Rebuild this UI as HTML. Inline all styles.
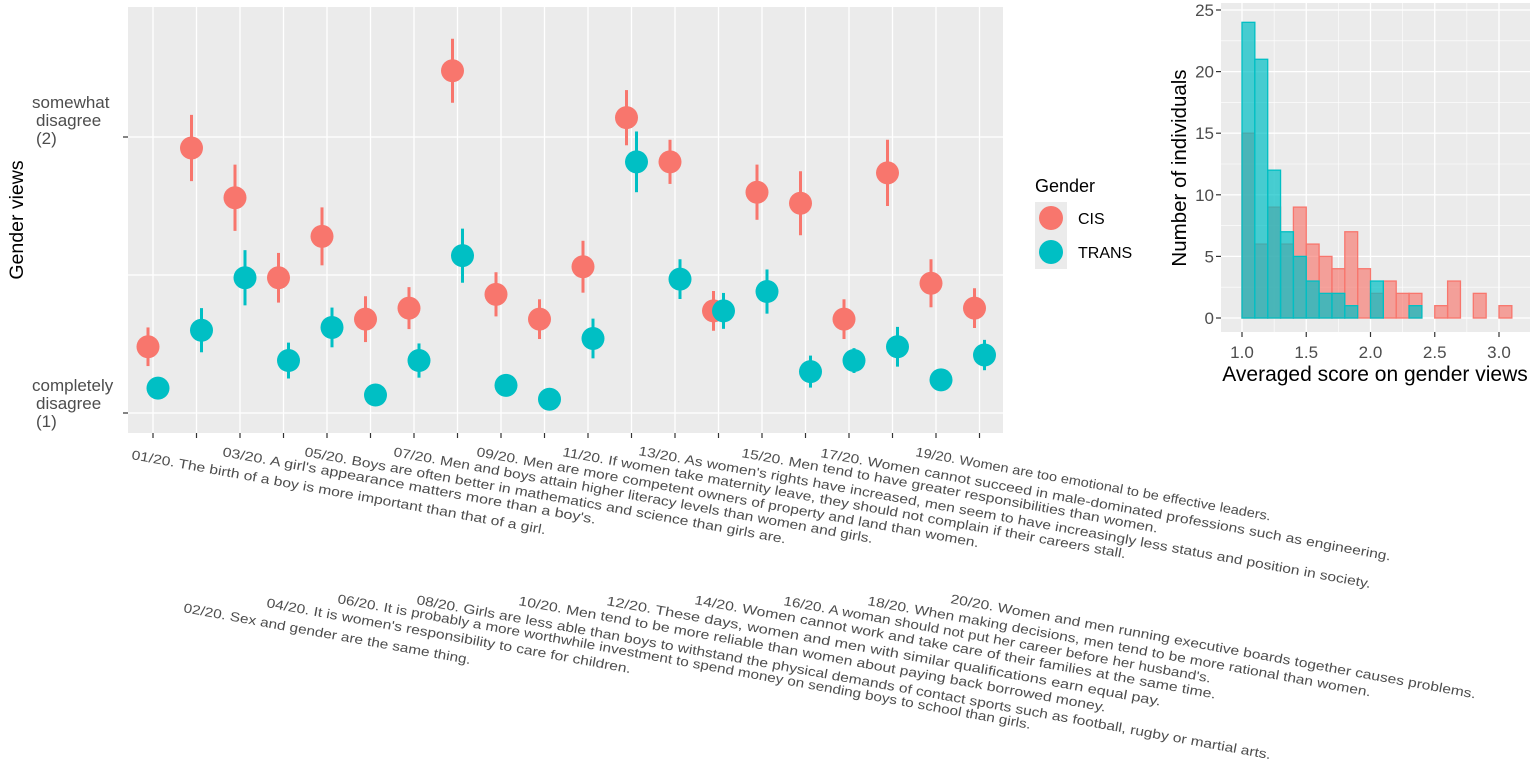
<!DOCTYPE html>
<html><head><meta charset="utf-8"><style>
html,body{margin:0;padding:0;background:#fff;}
svg{display:block;font-family:"Liberation Sans",Arial,sans-serif;}
</style></head><body>
<svg id="chart" width="1535" height="759" viewBox="0 0 1535 759">
<g id="main"></g>
<g id="legend">
<text x="1035" y="192" font-size="18" fill="#000">Gender</text>
<rect x="1035" y="202" width="32" height="67" fill="#ebebeb"/>
<circle cx="1051" cy="218" r="12" fill="#F8766D"/>
<circle cx="1051" cy="252" r="12" fill="#00BFC4"/>
<text x="1078" y="224" font-size="16" fill="#000">CIS</text>
<text x="1078" y="258" font-size="16" fill="#000">TRANS</text>
</g>
<g id="hist"></g>
</svg>
<script>
const questions = ["01","02","03","04","05","06","07","08","09","10","11","12","13","14","15","16","17","18","19","20"];
const cisMeans = [1.24,1.96,1.78,1.49,1.64,1.34,1.38,2.24,1.43,1.34,1.53,2.07,1.91,1.37,1.80,1.76,1.34,1.87,1.47,1.38];
const cisErr = [0.07,0.12,0.12,0.09,0.105,0.083,0.076,0.116,0.08,0.072,0.094,0.10,0.08,0.072,0.10,0.116,0.072,0.12,0.087,0.072];
const transMeans = [1.09,1.30,1.49,1.19,1.31,1.065,1.19,1.57,1.10,1.05,1.27,1.91,1.485,1.37,1.44,1.15,1.19,1.24,1.12,1.21];
const transErr = [0.03,0.08,0.10,0.065,0.072,0.03,0.062,0.098,0.03,0.03,0.072,0.11,0.072,0.065,0.08,0.058,0.045,0.072,0.03,0.055];
const yTickVals = [1,2];
const yTickLabels = [["completely","disagree","(1)"],["somewhat","disagree","(2)"]];
const qLabels = [
"01/20. The birth of a boy is more important than that of a girl.",
"02/20. Sex and gender are the same thing.",
"03/20. A girl's appearance matters more than a boy's.",
"04/20. It is women's responsibility to care for children.",
"05/20. Boys are often better in mathematics and science than girls are.",
"06/20. It is probably a more worthwhile investment to spend money on sending boys to school than girls.",
"07/20. Men and boys attain higher literacy levels than women and girls.",
"08/20. Girls are less able than boys to withstand the physical demands of contact sports such as football, rugby or martial arts.",
"09/20. Men are more competent owners of property and land than women.",
"10/20. Men tend to be more reliable than women about paying back borrowed money.",
"11/20. If women take maternity leave, they should not complain if their careers stall.",
"12/20. These days, women and men with similar qualifications earn equal pay.",
"13/20. As women's rights have increased, men seem to have increasingly less status and position in society.",
"14/20. Women cannot work and take care of their families at the same time.",
"15/20. Men tend to have greater responsibilities than women.",
"16/20. A woman should not put her career before her husband's.",
"17/20. Women cannot succeed in male-dominated professions such as engineering.",
"18/20. When making decisions, men tend to be more rational than women.",
"19/20. Women are too emotional to be effective leaders.",
"20/20. Women and men running executive boards together causes problems."];
const histBins = [1.0,1.1,1.2,1.3,1.4,1.5,1.6,1.7,1.8,1.9,2.0,2.1,2.2,2.3,2.4,2.5,2.6,2.7,2.8,2.9,3.0];
const cisCounts = [15,6,9,6,9,6,5,4,7,4,2,3,2,2,0,1,3,0,2,0,1];
const transCounts = [24,21,12,7,5,3,2,2,1,0,3,0,0,1,0,0,0,0,0,0,0];
const histYTicks = [0,5,10,15,20,25];
const histXTicks = [1.0,1.5,2.0,2.5,3.0];

const NS="http://www.w3.org/2000/svg";
function mk(tag,attrs,parent){const e=document.createElementNS(NS,tag);for(const k in attrs)e.setAttribute(k,attrs[k]);parent.appendChild(e);return e;}

// ---------- main plot ----------
const main=document.getElementById('main');
const P={l:128,t:7,r:1003,b:433};
const yS=v=>413-(v-1)*276;
const xS=i=>153+i*43.5;
let bg=mk('rect',{x:P.l,y:P.t,width:P.r-P.l,height:P.b-P.t,fill:'#ebebeb'},main);


[1,1.5,2].forEach(v=>{const l=mk('line',{x1:P.l,x2:P.r,y1:yS(v),y2:yS(v),stroke:'#fff','stroke-width':1.3},main);

});
questions.forEach((q,i)=>{const x=xS(i);
const g=mk('line',{x1:x,x2:x,y1:P.t,y2:P.b,stroke:'#fff','stroke-width':1.3},main);


const t=mk('line',{x1:x,x2:x,y1:P.b,y2:P.b+5,stroke:'#333','stroke-width':1.2},main);

});
yTickVals.forEach((v,i)=>{const y=yS(v);
const t=mk('line',{x1:P.l-5,x2:P.l,y1:y,y2:y,stroke:'#333','stroke-width':1.2},main);


const lines=yTickLabels[i];
const tx=mk('text',{x:34,y:y-(v===2?29:22),'font-size':17,fill:'#4d4d4d'},main);


lines.forEach((s,j)=>{const ts=mk('tspan',{x:(j===0?32:36),dy:(j===0?0:18)},tx);ts.textContent=s;});});
const yt=mk('text',{x:0,y:0,'font-size':19.5,fill:'#000','text-anchor':'middle',transform:'translate(23,220) rotate(-90)'},main);


yt.textContent='Gender views';
function series(means,errs,dx,color,name){
means.forEach((m,i)=>{const x=xS(i)+dx;
const e=mk('line',{x1:x,x2:x,y1:yS(m+errs[i]),y2:yS(m-errs[i]),stroke:color,'stroke-width':3},main);


const c=mk('circle',{cx:x,cy:yS(m),r:11.5,fill:color},main);

});}
series(cisMeans,cisErr,-5,'#F8766D','cis');
series(transMeans,transErr,5,'#00BFC4','trans');
// x labels
const labStart=[[131,449],[183,602],[222,446],[266,597],[304,446],[337,593],[393,446],[416,594],[476,446],[518,595],[562,446],[606,595],[638,445],[694,594],[741,447],[783,595],[820,447],[867,595],[915,446],[950,593]];
const labEnd=[545,470,595,630,785,1030,872,1270,978,1105,1125,1160,1370,1215,1157,1210,1390,1370,1270,1475];
const ang=10.3, cs=Math.cos(ang*Math.PI/180);
qLabels.forEach((s,i)=>{const [x,y]=labStart[i];
const t=mk('text',{x:0,y:0,'font-size':13,fill:'#4d4d4d',transform:`translate(${x},${y+10}) rotate(${ang})`,textLength:((labEnd[i]-x)/cs).toFixed(1),lengthAdjust:'spacingAndGlyphs'},main);


t.textContent=s;});

// ---------- histogram ----------
const H=document.getElementById('hist');
const HP={l:1221,t:3,r:1530,b:332};
const hx=v=>1242+(v-1)*128.5;
const hy=c=>318-c*12.32;
let hb=mk('rect',{x:HP.l,y:HP.t,width:HP.r-HP.l,height:HP.b-HP.t,fill:'#ebebeb'},H);


for(let v=0.75;v<=3.25;v+=0.25){const x=hx(v);if(x<HP.l||x>HP.r)continue;
const l=mk('line',{x1:x,x2:x,y1:HP.t,y2:HP.b,stroke:'#fff','stroke-width':(Math.abs(v*2-Math.round(v*2))<1e-6?1.3:0.6)},H);

}
for(let c=0;c<=27.5;c+=2.5){const y=hy(c);if(y<HP.t)continue;
const l=mk('line',{x1:HP.l,x2:HP.r,y1:y,y2:y,stroke:'#fff','stroke-width':(c%5===0?1.3:0.6)},H);

}
function bars(counts,color,op,name){histBins.forEach((b,i)=>{const x0=hx(b),x1=hx(b+0.1),y=hy(counts[i]);
const r=mk('rect',{x:x0,y:y,width:x1-x0,height:hy(0)-y,fill:color,'fill-opacity':op,stroke:color,'stroke-width':1.3},H);

});}
bars(cisCounts,'#F8766D',0.65,'cis');
bars(transCounts,'#00BFC4',0.7,'trans');
histYTicks.forEach(c=>{const y=hy(c);
const t=mk('line',{x1:HP.l-5,x2:HP.l,y1:y,y2:y,stroke:'#333','stroke-width':1.2},H);


const tx=mk('text',{x:HP.l-7,y:y+6,'font-size':17,fill:'#4d4d4d','text-anchor':'end'},H);


tx.textContent=c;});
histXTicks.forEach(v=>{const x=hx(v);
const t=mk('line',{x1:x,x2:x,y1:HP.b,y2:HP.b+5,stroke:'#333','stroke-width':1.2},H);


const tx=mk('text',{x:x,y:358,'font-size':17,fill:'#4d4d4d','text-anchor':'middle'},H);


tx.textContent=v.toFixed(1);});
const hxt=mk('text',{x:1375,y:381,'font-size':21,fill:'#000','text-anchor':'middle'},H);


hxt.textContent='Averaged score on gender views';
const hyt=mk('text',{x:0,y:0,'font-size':20.5,fill:'#000','text-anchor':'middle',transform:'translate(1186,168) rotate(-90)'},H);


hyt.textContent='Number of individuals';
</script>
</body></html>
